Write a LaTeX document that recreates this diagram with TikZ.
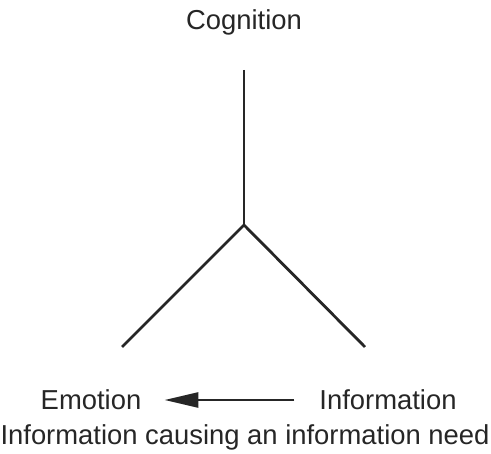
\documentclass[tikz,border=0pt]{standalone}
\usepackage{fontspec}
\setmainfont{Liberation Sans}
\usetikzlibrary{positioning, arrows.meta}

\begin{document}
\begin{tikzpicture}[
			x=1pt, y=-1pt,
			label/.style={inner sep=0pt, font=\fontsize{27.4}{32}\selectfont, text=black!85},
			branch/.style={line width=2.8pt, draw=black!85},
			arrow/.style={line width=2.8pt, draw=black!85, -{Triangle[length=34pt, width=15pt]}},
			]
			\useasboundingbox (0,0) rectangle (491,454);
			
			% Nodes
			\node[label] (cog) at (244,22) {Cognition};
			\node[label] (emo) at (91,400) {Emotion};
			\node[label] (info) at (388,400) {Information};
			\node[label] (need) at (245,437) {Information causing an information need};
			
			\coordinate (top) at (244,70);
			\coordinate (mid) at (244,225);
			\coordinate (left) at (122,347);
			\coordinate (right) at (365,347);
			
			% Lines
			\draw[branch] (top) -- (mid);
			\draw[branch] (mid) -- (left);
			\draw[branch] (mid) -- (right);
			
			% Arrows
			\draw[arrow, shorten <=25pt, shorten >=23pt] (info.west) -- (emo.east);
			
		\end{tikzpicture}
\end{document}
